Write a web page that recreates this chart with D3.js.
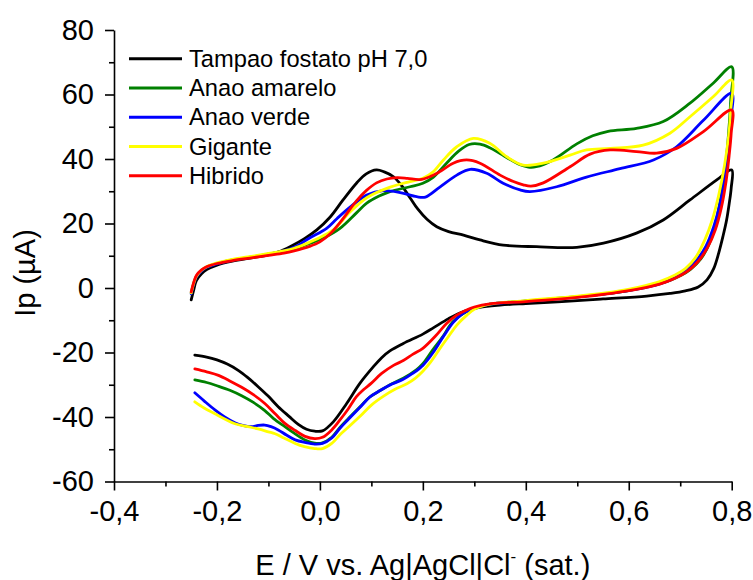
<!DOCTYPE html>
<html><head><meta charset="utf-8">
<script src="https://cdn.jsdelivr.net/npm/d3@7"></script>
<style>
html,body{margin:0;padding:0;background:#fff;}
svg{display:block;font-family:"Liberation Sans",Arial,sans-serif;}
</style></head>
<body><svg id="chart" width="753" height="580"></svg>
<script>
// Series: [E (V), Ip (µA)] — forward scan then reverse scan
const tampao = [[-0.25,-3.7],[-0.245,-0.5],[-0.24,2.3],[-0.23,4.4],[-0.22,5.7],[-0.2,7.1],[-0.17,8.3],[-0.13,9.4],[-0.1,10.3],[-0.08,11.2],[-0.058,12.8],[-0.03,15.3],[-0.006,18],[0.02,22],[0.045,27.3],[0.071,32.5],[0.09,35.4],[0.11,36.6],[0.125,36],[0.143,34.5],[0.16,31.5],[0.175,28],[0.19,24.5],[0.208,21.3],[0.227,19],[0.25,17.5],[0.279,16.4],[0.311,14.9],[0.356,13.3],[0.421,12.8],[0.499,12.6],[0.551,13.9],[0.615,17],[0.667,21.1],[0.719,27.3],[0.771,33.5],[0.8,36.6],
  [0.799,31],[0.795,26],[0.79,21],[0.783,16],[0.775,11],[0.765,6],[0.752,2.5],[0.735,0.3],[0.71,-0.9],[0.68,-1.7],[0.635,-2.5],[0.55,-3.4],[0.47,-4.2],[0.4,-4.8],[0.35,-5.3],[0.31,-6],[0.28,-7.2],[0.25,-9.5],[0.221,-12.3],[0.2,-14.3],[0.162,-17.2],[0.136,-19.5],[0.12,-21.6],[0.104,-24.4],[0.078,-29.5],[0.052,-35.8],[0.026,-41.5],[0.005,-44.3],[-0.01,-44.4],[-0.026,-43.8],[-0.042,-42.3],[-0.06,-39.8],[-0.081,-36.8],[-0.1,-33.6],[-0.12,-30.6],[-0.14,-27.8],[-0.158,-25.6],[-0.18,-23.6],[-0.2,-22.3],[-0.22,-21.4],[-0.243,-20.8]];

const anaoAmarelo = [[-0.25,-1.5],[-0.245,1.5],[-0.24,3.6],[-0.23,5.4],[-0.22,6.5],[-0.2,7.6],[-0.17,8.7],[-0.13,9.7],[-0.1,10.5],[-0.07,11.4],[-0.05,12.2],[-0.02,13.8],[0.007,15.5],[0.039,18.5],[0.071,23.3],[0.091,26.3],[0.115,28.5],[0.136,29.9],[0.175,31.4],[0.2,32.5],[0.22,34.3],[0.246,38.7],[0.27,42.5],[0.29,44.5],[0.311,44.6],[0.33,43.5],[0.35,41.7],[0.37,39.8],[0.389,38.2],[0.405,37.5],[0.42,37.6],[0.453,39.7],[0.499,44.7],[0.53,47.2],[0.56,48.6],[0.615,49.5],[0.667,51.6],[0.719,57.3],[0.764,63.5],[0.8,68.6],
  [0.798,58],[0.794,48],[0.788,38],[0.78,29],[0.77,21],[0.757,14],[0.74,9],[0.72,5.8],[0.7,3.8],[0.67,1.8],[0.63,0.2],[0.58,-1.3],[0.5,-2.7],[0.4,-4.0],[0.33,-5.0],[0.3,-6.3],[0.285,-7.3],[0.265,-9.5],[0.253,-11.5],[0.24,-14.8],[0.22,-19],[0.2,-23.5],[0.188,-25.3],[0.162,-28],[0.14,-29.7],[0.117,-31.8],[0.097,-33.8],[0.078,-36.8],[0.055,-40.5],[0.039,-43.2],[0.023,-46.3],[0.005,-48],[-0.01,-48.1],[-0.029,-47.1],[-0.05,-45],[-0.068,-43],[-0.09,-40.5],[-0.107,-38],[-0.13,-35.4],[-0.152,-33.4],[-0.175,-31.7],[-0.2,-30.3],[-0.22,-29.3],[-0.243,-28.5]];

const anaoVerde = [[-0.25,-1.8],[-0.245,1.3],[-0.24,3.4],[-0.23,5.3],[-0.22,6.4],[-0.2,7.5],[-0.17,8.6],[-0.13,9.6],[-0.1,10.5],[-0.07,11.5],[-0.05,12.6],[-0.02,15.5],[0.013,18.5],[0.033,21.5],[0.058,25],[0.091,28.8],[0.123,30.2],[0.156,29.6],[0.188,28.3],[0.205,28.2],[0.233,31.3],[0.266,35],[0.292,36.8],[0.324,35.6],[0.356,32.5],[0.389,30.4],[0.408,29.9],[0.46,31.4],[0.518,34.4],[0.583,37],[0.648,39.7],[0.693,43.8],[0.745,52],[0.8,60.4],
  [0.798,52],[0.793,43],[0.786,34],[0.777,26],[0.765,19],[0.75,13],[0.73,8.3],[0.71,5.2],[0.68,2.4],[0.64,0.4],[0.58,-1.3],[0.5,-2.8],[0.4,-4.1],[0.33,-5.0],[0.3,-6.3],[0.279,-7.8],[0.26,-10.5],[0.24,-15],[0.22,-20],[0.2,-24],[0.18,-26.5],[0.162,-28.3],[0.14,-29.8],[0.117,-31.8],[0.097,-33.8],[0.078,-37],[0.055,-40.8],[0.039,-43.5],[0.023,-46.5],[0.005,-48.2],[-0.01,-48.4],[-0.029,-47.9],[-0.048,-47.1],[-0.065,-45.6],[-0.081,-44],[-0.095,-43],[-0.107,-42.5],[-0.12,-42.6],[-0.133,-43],[-0.15,-42.6],[-0.165,-41.8],[-0.185,-40],[-0.204,-37.8],[-0.225,-35],[-0.243,-32.5]];

const gigante = [[-0.25,-1.5],[-0.245,1.5],[-0.24,3.6],[-0.23,5.5],[-0.22,6.6],[-0.2,7.8],[-0.17,8.9],[-0.13,9.9],[-0.1,10.7],[-0.07,11.5],[-0.05,12.3],[-0.02,14.2],[-0.006,15.2],[0.026,18],[0.058,23.5],[0.091,28],[0.13,30.9],[0.175,33],[0.2,34],[0.22,36],[0.24,39.7],[0.266,43.8],[0.298,46.4],[0.33,44.9],[0.363,40.7],[0.395,38.1],[0.434,38.7],[0.486,41.2],[0.518,42.8],[0.564,43.3],[0.628,44.3],[0.68,48],[0.719,53.1],[0.764,59.3],[0.8,64.5],
  [0.798,55],[0.794,47],[0.786,38],[0.775,29],[0.762,21],[0.748,15],[0.73,9.5],[0.71,6],[0.69,4],[0.66,2],[0.62,0.3],[0.57,-1.2],[0.5,-2.5],[0.4,-3.9],[0.33,-5],[0.3,-6.6],[0.285,-8.5],[0.266,-11.5],[0.25,-15],[0.233,-18.8],[0.215,-23],[0.2,-25.8],[0.185,-28],[0.169,-29.7],[0.145,-31.5],[0.123,-33.6],[0.1,-36.3],[0.078,-39.8],[0.055,-43.2],[0.039,-45.5],[0.023,-48.2],[0.005,-49.8],[-0.01,-49.8],[-0.03,-49.2],[-0.048,-48.2],[-0.07,-46.5],[-0.087,-45.2],[-0.1,-44.6],[-0.12,-43.7],[-0.14,-43],[-0.165,-42.1],[-0.185,-40.6],[-0.204,-39],[-0.225,-37.2],[-0.243,-35.3]];

const hibrido = [[-0.25,-1.2],[-0.245,1.8],[-0.24,3.9],[-0.23,5.6],[-0.22,6.6],[-0.2,7.6],[-0.17,8.5],[-0.13,9.4],[-0.1,10.1],[-0.07,10.8],[-0.05,11.5],[-0.02,12.9],[0.0,14.3],[0.02,16.8],[0.04,20.5],[0.071,27],[0.09,30.2],[0.11,32.6],[0.13,33.8],[0.15,34.2],[0.17,34],[0.194,33.6],[0.215,34.6],[0.233,36.1],[0.259,38.7],[0.285,39.7],[0.311,38.7],[0.35,35],[0.376,33],[0.395,32],[0.41,31.6],[0.434,32.6],[0.486,37.6],[0.525,41.5],[0.564,42.8],[0.615,42.3],[0.654,41.8],[0.693,43.3],[0.745,48.5],[0.8,55.2],
  [0.799,48],[0.795,41],[0.789,33],[0.78,25],[0.768,18],[0.753,12.5],[0.735,8.3],[0.715,5.3],[0.69,3],[0.66,1.2],[0.62,-0.3],[0.57,-1.6],[0.5,-2.9],[0.4,-4.2],[0.33,-4.9],[0.3,-5.9],[0.285,-6.8],[0.265,-8.5],[0.246,-11],[0.225,-14.8],[0.2,-18.7],[0.181,-20.5],[0.162,-22.5],[0.143,-24],[0.12,-26.5],[0.1,-29.5],[0.085,-31.5],[0.071,-33.7],[0.055,-37.5],[0.039,-40.9],[0.023,-44],[0.005,-46.3],[-0.01,-46.7],[-0.029,-46],[-0.048,-44.2],[-0.068,-42],[-0.087,-39],[-0.107,-35.8],[-0.13,-33],[-0.152,-30.8],[-0.175,-28.8],[-0.197,-27.1],[-0.22,-26],[-0.243,-25.1]];

const seriesNames = ["Tampao fostato pH 7,0","Anao amarelo","Anao verde","Gigante","Hibrido"];
const seriesColors = ["#000000","#008000","#0000ff","#ffff00","#ff0000"];
const seriesData = [tampao, anaoAmarelo, anaoVerde, gigante, hibrido];

const xMajorTicks = [-0.4,-0.2,0.0,0.2,0.4,0.6,0.8];
const xMinorTicks = [-0.3,-0.1,0.1,0.3,0.5,0.7];
const yMajorTicks = [-60,-40,-20,0,20,40,60,80];
const yMinorTicks = [-50,-30,-10,10,30,50,70];

const svg = d3.select("#chart");
const x = d3.scaleLinear().domain([-0.4,0.8]).range([114,731.7]);
const y = d3.scaleLinear().domain([-60,80]).range([481.5,30]);

const fmtX = d => d3.format(".1f")(d).replace("−","-").replace(".",",");
const fmtY = d => String(d);

// minor ticks
svg.append("g").attr("transform",`translate(0,${y(-60)})`)
  .call(d3.axisBottom(x).tickValues(xMinorTicks).tickSize(5).tickSizeOuter(0).tickFormat(""))
  .call(g=>g.select(".domain").remove());
svg.append("g").attr("transform",`translate(${x(-0.4)},0)`)
  .call(d3.axisLeft(y).tickValues(yMinorTicks).tickSize(5).tickSizeOuter(0).tickFormat(""))
  .call(g=>g.select(".domain").remove());

const xAxis = svg.append("g").attr("transform",`translate(0,${y(-60)})`)
  .call(d3.axisBottom(x).tickValues(xMajorTicks).tickSize(9).tickSizeOuter(0).tickPadding(10).tickFormat(fmtX));
const yAxis = svg.append("g").attr("transform",`translate(${x(-0.4)},0)`)
  .call(d3.axisLeft(y).tickValues(yMajorTicks).tickSize(9).tickSizeOuter(0).tickPadding(11).tickFormat(fmtY));

svg.selectAll(".tick line, .domain").attr("stroke","#000").attr("stroke-width",1.6);
svg.selectAll(".tick text").attr("font-size",29).attr("fill","#000").attr("font-family","Liberation Sans, Arial, sans-serif");

// curves
const line = d3.line().x(d=>x(d[0])).y(d=>y(d[1])).curve(d3.curveCatmullRom.alpha(0.5));
svg.append("g").selectAll("path").data(seriesData).join("path")
  .attr("d", line).attr("fill","none")
  .attr("stroke",(d,i)=>seriesColors[i]).attr("stroke-width",2.8)
  .attr("stroke-linejoin","round").attr("stroke-linecap","round");

// legend
const lg = svg.append("g");
seriesNames.forEach((name,i)=>{
  const yy = 58.7 + i*29.25;
  lg.append("line").attr("x1",129).attr("x2",182).attr("y1",yy).attr("y2",yy)
    .attr("stroke",seriesColors[i]).attr("stroke-width",3);
  lg.append("text").attr("x",189).attr("y",yy+8.2).attr("font-size",23.7).attr("fill","#000").text(name);
});

// axis titles
const xt = svg.append("text").attr("x",(x(-0.4)+x(0.8))/2).attr("y",575).attr("text-anchor","middle")
  .attr("font-size",29).attr("fill","#000");
xt.append("tspan").text("E / V vs. Ag|AgCl|Cl");
xt.append("tspan").attr("font-size",17).attr("dy",-13).text("-");
xt.append("tspan").attr("dy",13).text(" (sat.)");

svg.append("text").attr("transform","translate(35,273) rotate(-90)").attr("text-anchor","middle")
  .attr("font-size",29).attr("fill","#000").text("Ip (\u00b5A)");
</script></body></html>
